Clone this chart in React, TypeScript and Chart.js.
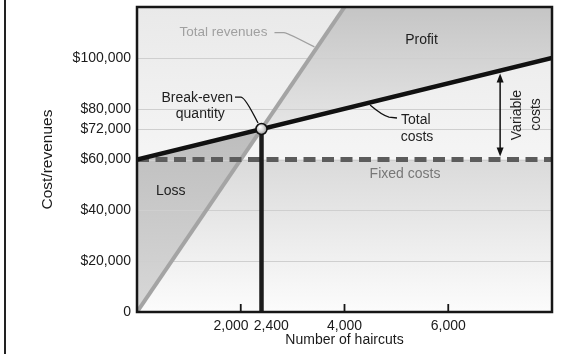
import React, { useEffect, useRef } from "react";
import { Chart, registerables } from "chart.js";

Chart.register(...registerables);

const FONT = "'Liberation Sans', Arial, Helvetica, sans-serif";

// ---- data (haircuts on x, dollars on y) ----
const xMin = 0;
const xMax = 8000;
const yMin = 0;
const yMax = 120000;

const revenueX = [0, 8000];
const revenueY = [0, 240000];

const costX = [0, 8000];
const costY = [60000, 100000];

const fixedX = [0, 8000];
const fixedY = [60000, 60000];

const breakEvenX = [2400, 2400];
const breakEvenY = [0, 72000];

const breakEvenPointX = [2400];
const breakEvenPointY = [72000];

const variableArrowX = 7000;
const variableArrowTop = 95000;
const variableArrowBottom = 60000;

const yTickValues = [0, 20000, 40000, 60000, 72000, 80000, 100000];
const yTickLabels = ["0", "$20,000", "$40,000", "$60,000", "$72,000", "$80,000", "$100,000"];

const xTickValues = [2000, 2400, 4000, 6000];
const xTickLabels = ["2,000", "2,400", "4,000", "6,000"];
const xTickMarks = [2000, 4000, 6000];

const PAD = "     ";

function pts(xs: number[], ys: number[]) {
  return xs.map((x, i) => ({ x, y: ys[i] }));
}

export default function App() {
  const ref = useRef<HTMLCanvasElement>(null);

  useEffect(() => {
    const canvas = ref.current!;
    const lineBase = { pointRadius: 0, pointHoverRadius: 0, tension: 0, fill: false };

    const bgPlugin = {
      id: "bgAndGrid",
      beforeDraw(chart: any) {
        const { ctx, chartArea: a, scales } = chart;
        const ys = scales.y;
        const g = ctx.createLinearGradient(0, ys.getPixelForValue(yMax), 0, ys.getPixelForValue(60000));
        g.addColorStop(0, "#e9e9e9");
        g.addColorStop(1, "#f5f5f5");
        ctx.save();
        ctx.fillStyle = g;
        ctx.fillRect(a.left, a.top, a.right - a.left, a.bottom - a.top);
        ctx.restore();
      },
      beforeDatasetsDraw(chart: any) {
        const { ctx, chartArea: a, scales } = chart;
        const ys = scales.y;
        ctx.save();
        ctx.strokeStyle = "#cfcfcf";
        ctx.lineWidth = 1;
        ys.ticks.forEach((t: any) => {
          if (t.value === 0) return;
          const py = Math.round(ys.getPixelForValue(t.value)) + 0.5;
          ctx.beginPath();
          ctx.moveTo(a.left, py);
          ctx.lineTo(a.right, py);
          ctx.stroke();
        });
        ctx.restore();
      },
    };

    const overlayPlugin = {
      id: "overlay",
      afterDatasetsDraw(chart: any) {
        const { ctx, chartArea: a, scales } = chart;
        const X = (v: number) => scales.x.getPixelForValue(v);
        const Y = (v: number) => scales.y.getPixelForValue(v);
        ctx.save();

        // plot frame
        ctx.strokeStyle = "#161616";
        ctx.lineWidth = 2.5;
        ctx.strokeRect(a.left, a.top, a.right - a.left, a.bottom - a.top);

        // inner tick marks
        ctx.lineWidth = 1.8;
        xTickMarks.forEach((v) => {
          const px = X(v);
          ctx.beginPath();
          ctx.moveTo(px, a.bottom);
          ctx.lineTo(px, a.bottom - 8);
          ctx.stroke();
        });

        const text = (s: string, x: number, y: number, color: string, align: CanvasTextAlign = "center", size = 14) => {
          ctx.font = `${size}px ${FONT}`;
          ctx.fillStyle = color;
          ctx.textAlign = align;
          ctx.textBaseline = "middle";
          ctx.fillText(s, x, y);
        };

        // labels
        text("Total revenues", X(1667), Y(110000), "#a0a0a0", "center", 13.5);
        text("Profit", X(5484), Y(107000), "#1e1e1e");
        text("Break-even", X(1160), Y(84190), "#1e1e1e");
        text("quantity", X(1220), Y(77890), "#1e1e1e");
        text("Total", X(5089), Y(75530), "#1e1e1e", "left");
        text("costs", X(5083), Y(68845), "#1e1e1e", "left");
        text("Fixed costs", X(5166), Y(54290), "#777777");
        text("Loss", X(366), Y(47600), "#1e1e1e", "left");

        // rotated "Variable costs"
        ctx.save();
        ctx.translate(X(7335), Y(77500));
        ctx.rotate(-Math.PI / 2);
        text("Variable", 0, 0, "#1e1e1e");
        ctx.restore();
        ctx.save();
        ctx.translate(X(7691), Y(77700));
        ctx.rotate(-Math.PI / 2);
        text("costs", 0, 0, "#1e1e1e");
        ctx.restore();

        // leader lines
        ctx.lineWidth = 1.3;
        ctx.strokeStyle = "#a0a0a0";
        ctx.beginPath();
        ctx.moveTo(X(2650), Y(109950));
        ctx.lineTo(X(2830), Y(109950));
        ctx.quadraticCurveTo(X(2911), Y(109760), X(3420), Y(104300));
        ctx.stroke();

        ctx.strokeStyle = "#111111";
        ctx.beginPath();
        ctx.moveTo(X(1889), Y(84580));
        ctx.lineTo(X(2005), Y(84580));
        ctx.quadraticCurveTo(X(2082), Y(84580), X(2333), Y(74350));
        ctx.stroke();

        ctx.beginPath();
        ctx.moveTo(X(5012), Y(76320));
        ctx.lineTo(X(4858), Y(76710));
        ctx.quadraticCurveTo(X(4742), Y(77100), X(4492), Y(81430));
        ctx.stroke();

        // double arrow (variable costs)
        const ax = X(variableArrowX);
        const ay1 = Y(variableArrowTop) + 3;
        const ay2 = Y(variableArrowBottom) - 3;
        ctx.lineWidth = 1.5;
        ctx.strokeStyle = "#111111";
        ctx.fillStyle = "#111111";
        ctx.beginPath();
        ctx.moveTo(ax, ay1 + 6);
        ctx.lineTo(ax, ay2 - 6);
        ctx.stroke();
        ctx.beginPath();
        ctx.moveTo(ax, ay1);
        ctx.lineTo(ax - 3.5, ay1 + 9);
        ctx.lineTo(ax + 3.5, ay1 + 9);
        ctx.closePath();
        ctx.fill();
        ctx.beginPath();
        ctx.moveTo(ax, ay2);
        ctx.lineTo(ax - 3.5, ay2 - 9);
        ctx.lineTo(ax + 3.5, ay2 - 9);
        ctx.closePath();
        ctx.fill();

        ctx.restore();
      },
    };

    const tickFont = { family: FONT, size: 14 };

    const chart = new Chart(canvas, {
      type: "line",
      data: {
        datasets: [
          {
            label: "Break-even point",
            data: pts(breakEvenPointX, breakEvenPointY),
            showLine: false,
            pointRadius: 5.5,
            pointHoverRadius: 5.5,
            pointBorderWidth: 1.5,
            pointBorderColor: "#111111",
            pointBackgroundColor: "#cccccc",
          },
          {
            label: "Break-even quantity",
            data: pts(breakEvenX, breakEvenY),
            borderColor: "#1c1c1c",
            borderWidth: 4.5,
            borderCapStyle: "butt",
            ...lineBase,
          },
          {
            label: "Total costs",
            data: pts(costX, costY),
            borderColor: "#111111",
            borderWidth: 4.5,
            ...lineBase,
          },
          {
            label: "Fixed costs",
            data: pts(fixedX, fixedY),
            borderColor: "#5c5c5c",
            borderWidth: 5,
            borderDash: [12, 6.5],
            borderCapStyle: "butt",
            ...lineBase,
          },
          {
            label: "Total revenues",
            data: pts(revenueX, revenueY),
            borderColor: "#a4a4a4",
            borderWidth: 4,
            ...lineBase,
          },
          {
            label: "Profit / loss area",
            data: pts(revenueX, revenueY),
            borderColor: "rgba(0,0,0,0)",
            borderWidth: 0.01,
            ...lineBase,
            fill: { target: 2, above: "#cccccc", below: "#c4c4c4" },
          },
          {
            label: "Fixed area",
            data: pts(fixedX, fixedY),
            borderColor: "rgba(0,0,0,0)",
            borderWidth: 0.01,
            ...lineBase,
            fill: "origin",
            backgroundColor: "#e4e4e4",
          },
        ],
      },
      options: {
        responsive: false,
        animation: false,
        events: [],
        layout: { padding: { top: 7, right: 34, bottom: 0, left: 0 } },
        plugins: {
          legend: { display: false },
          tooltip: { enabled: false },
          filler: { drawTime: "beforeDatasetsDraw" },
        },
        scales: {
          x: {
            type: "linear",
            min: xMin,
            max: xMax,
            afterBuildTicks: (s: any) => {
              s.ticks = xTickValues.map((v) => ({ value: v }));
            },
            afterFit: (s: any) => {
              s.height = 42;
              s.paddingLeft = 0;
              s.paddingRight = 0;
            },
            grid: { display: false, drawTicks: false },
            border: { display: false },
            ticks: {
              autoSkip: false,
              maxRotation: 0,
              minRotation: 0,
              padding: 6,
              color: "#1a1a1a",
              font: tickFont,
              callback: (_v: any, i: number) =>
                i === 0 ? xTickLabels[i] + PAD : i === 1 ? PAD + xTickLabels[i] : xTickLabels[i],
            },
            title: {
              display: true,
              text: "Number of haircuts",
              color: "#1a1a1a",
              font: tickFont,
              padding: { top: 0, bottom: 5 },
            },
          },
          y: {
            type: "linear",
            min: yMin,
            max: yMax,
            afterBuildTicks: (s: any) => {
              s.ticks = yTickValues.map((v) => ({ value: v }));
            },
            afterFit: (s: any) => {
              s.width = 137;
              s.paddingTop = 0;
              s.paddingBottom = 0;
            },
            grid: { display: false, drawTicks: false },
            border: { display: false },
            ticks: {
              autoSkip: false,
              padding: 6,
              color: "#1a1a1a",
              font: tickFont,
              callback: (_v: any, i: number) => yTickLabels[i],
            },
            title: {
              display: true,
              text: "Cost/revenues",
              color: "#1a1a1a",
              font: { family: FONT, size: 15.5 },
              padding: { top: 38, bottom: 0 },
            },
          },
        },
      },
      plugins: [bgPlugin, overlayPlugin],
    } as any);

    // gradients built from the scales after layout
    const ctx = chart.ctx;
    const xs: any = chart.scales.x;
    const ys: any = chart.scales.y;
    const vg = (v1: number, c1: string, v2: number, c2: string) => {
      const g = ctx.createLinearGradient(0, ys.getPixelForValue(v1), 0, ys.getPixelForValue(v2));
      g.addColorStop(0, c1);
      g.addColorStop(1, c2);
      return g;
    };
    const ds: any[] = chart.data.datasets as any[];
    ds[5].fill = {
      target: 2,
      above: vg(120000, "#c5c5c5", 72000, "#e6e6e6"),
      below: vg(72000, "#bdbdbd", 0, "#d8d8d8"),
    };
    ds[6].backgroundColor = vg(60000, "#dadada", 0, "#fcfcfc");
    const px = xs.getPixelForValue(breakEvenPointX[0]);
    const py = ys.getPixelForValue(breakEvenPointY[0]);
    if (isFinite(px) && isFinite(py)) {
      const rg = ctx.createRadialGradient(px - 1.5, py - 2, 0.5, px, py, 6);
      rg.addColorStop(0, "#ffffff");
      rg.addColorStop(0.5, "#d6d6d6");
      rg.addColorStop(1, "#8c8c8c");
      ds[0].pointBackgroundColor = rg;
    }
    chart.update();

    return () => chart.destroy();
  }, []);

  return (
    <div style={{ position: "fixed", left: 0, top: 0, width: 586, height: 354, background: "#ffffff" }}>
      <div style={{ position: "absolute", left: 4, top: 0, width: 1.5, height: 354, background: "#222222" }} />
      <canvas ref={ref} width={586} height={354} style={{ position: "absolute", left: 0, top: 0 }} />
    </div>
  );
}
